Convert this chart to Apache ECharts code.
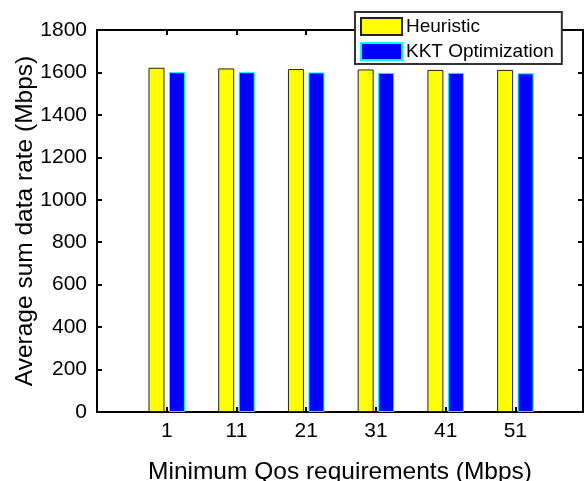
<!DOCTYPE html>
<html>
<head>
<meta charset="utf-8">
<script src="https://cdn.jsdelivr.net/npm/echarts@6/dist/echarts.min.js"></script>
<style>
  html, body { margin: 0; padding: 0; background: #fff; }
  #chart { width: 586px; height: 481px; }
</style>
</head>
<body>
<div id="chart"></div>
<script>
// Minimum QoS requirement per group (Mbps), also the x tick labels
const qosLabels = [1, 11, 21, 31, 41, 51];
// Average sum data rate (Mbps) for each scheme
const heuristic = [1622, 1619, 1616, 1614, 1612, 1612];
const kktOptimization = [1601, 1601, 1600, 1598, 1598, 1596];
const yTicks = [0, 200, 400, 600, 800, 1000, 1200, 1400, 1600, 1800];

const FONT = 'Liberation Sans, Arial, sans-serif';
const chart = echarts.init(document.getElementById('chart'), null, { renderer: 'canvas' });

const pair = (vals) => qosLabels.map((q, i) => [q, vals[i]]);
const xMin = -9, xMax = 60.7;
const showTick = (v) => qosLabels.indexOf(Math.round(v * 100) / 100) >= 0;

const axisLine = { show: true, onZero: false, lineStyle: { color: '#000', width: 2 } };
const tick = { show: true, inside: true, length: 5, lineStyle: { color: '#000', width: 2 } };

chart.setOption({
  animation: false,
  backgroundColor: '#fff',
  grid: { left: 97, right: 3, top: 30, bottom: 69, containLabel: false, outerBoundsMode: 'none' },
  legend: {
    orient: 'vertical',
    left: 355,
    top: 12,
    padding: [5, 8, 3, 5],
    itemWidth: 41,
    itemHeight: 17,
    itemGap: 6,
    backgroundColor: '#fff',
    borderColor: '#333',
    borderWidth: 2,
    borderRadius: 0,
    icon: 'rect',
    textStyle: { fontFamily: FONT, fontSize: 19, color: '#000', padding: [0, 0, 0, -1] },
    z: 10
  },
  xAxis: [
    {
      type: 'value', position: 'bottom', min: xMin, max: xMax, interval: 10,
      axisLine: axisLine,
      axisTick: tick,
      splitLine: { show: false },
      axisLabel: {
        fontFamily: FONT, fontSize: 21, color: '#000', margin: 9,
        showMinLabel: true, showMaxLabel: false,
        formatter: (v) => showTick(v) ? String(v) : ''
      },
      name: 'Minimum Qos requirements (Mbps)',
      nameLocation: 'middle',
      nameGap: 48,
      nameMoveOverlap: false,
      nameTextStyle: { fontFamily: FONT, fontSize: 24.5, color: '#000' }
    },
    {
      type: 'value', position: 'top', min: xMin, max: xMax, interval: 10,
      axisLine: axisLine,
      axisTick: tick,
      axisLabel: { show: false },
      splitLine: { show: false }
    }
  ],
  yAxis: [
    {
      type: 'value', position: 'left', min: 0, max: 1800, interval: 200,
      axisLine: axisLine,
      axisTick: tick,
      splitLine: { show: false },
      axisLabel: {
        fontFamily: FONT, fontSize: 21, color: '#000', margin: 10,
        formatter: (v) => yTicks.indexOf(v) >= 0 ? String(v) : ''
      },
      name: 'Average sum data rate (Mbps)',
      nameLocation: 'middle',
      nameGap: 59,
      nameMoveOverlap: false,
      nameTextStyle: { fontFamily: FONT, fontSize: 24.5, color: '#000' }
    },
    {
      type: 'value', position: 'right', min: 0, max: 1800, interval: 200,
      axisLine: axisLine,
      axisTick: tick,
      axisLabel: { show: false },
      splitLine: { show: false }
    }
  ],
  series: [
    {
      name: 'Heuristic',
      type: 'bar',
      data: pair(heuristic),
      barWidth: 16,
      barGap: '28%',
      itemStyle: { color: '#ffff00', borderColor: '#222', borderWidth: 1 }
    },
    {
      name: 'KKT Optimization',
      type: 'bar',
      data: pair(kktOptimization),
      barWidth: 16,
      barGap: '28%',
      itemStyle: { color: '#0000ff', borderColor: '#00ffff', borderWidth: 1 }
    }
  ]
});
</script>
</body>
</html>
